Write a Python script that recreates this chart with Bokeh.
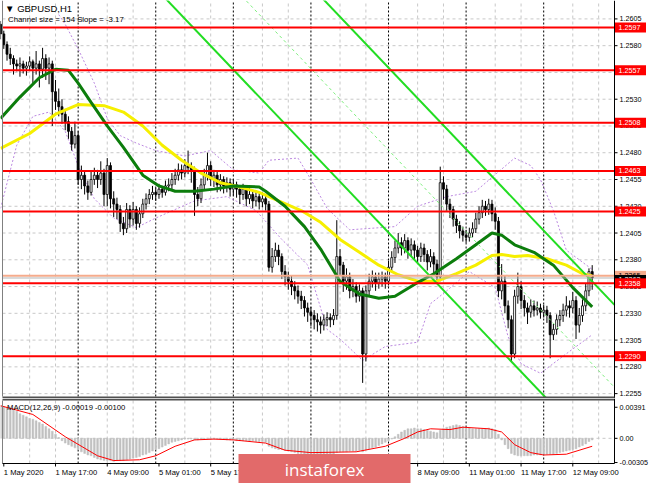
from bokeh.plotting import figure
from bokeh.layouts import column
from bokeh.models import Range1d, Label, ColumnDataSource
from bokeh.core.properties import value
from bokeh.embed import file_html
from bokeh.resources import INLINE

FONT = "Liberation Sans"

# ---------------- data ----------------
symbol_title = "\u25BC GBPUSD,H1"
channel_size_pips = 154
channel_slope_pips = -3.17
channel_anchor_bar = 99
channel_anchor_price = 1.2472

first_open = 1.2600
closes = [
    1.2591, 1.2581, 1.2572, 1.2568, 1.2563, 1.2561, 1.2563, 1.2559,
    1.2561, 1.2565, 1.2559, 1.2563, 1.2558, 1.2568, 1.2559, 1.2563,
    1.2537, 1.2528, 1.2523, 1.2516, 1.2509, 1.2500, 1.2488, 1.2496,
    1.2455, 1.2459, 1.2449, 1.2443, 1.2455, 1.2459, 1.2455, 1.2461,
    1.2441, 1.2468, 1.2437, 1.2432, 1.2427, 1.2414, 1.2409, 1.2427,
    1.2418, 1.2427, 1.2414, 1.2423, 1.2432, 1.2437, 1.2441, 1.2443,
    1.2441, 1.2446, 1.2443, 1.2449, 1.2450, 1.2455, 1.2459, 1.2464,
    1.2461, 1.2468, 1.2466, 1.2464, 1.2441, 1.2437, 1.2450, 1.2459,
    1.2468, 1.2455, 1.2459, 1.2450, 1.2455, 1.2449, 1.2452, 1.2446,
    1.2450, 1.2446, 1.2441, 1.2446, 1.2437, 1.2441, 1.2435, 1.2439,
    1.2434, 1.2437, 1.2432, 1.2373, 1.2383, 1.2389, 1.2383, 1.2369,
    1.2364, 1.2360, 1.2355, 1.2351, 1.2346, 1.2342, 1.2335, 1.2331,
    1.2328, 1.2324, 1.2322, 1.2319, 1.2324, 1.2326, 1.2324, 1.2328,
    1.2383, 1.2375, 1.2360, 1.2364, 1.2351, 1.2355, 1.2346, 1.2351,
    1.2292, 1.2351, 1.2360, 1.2364, 1.2358, 1.2362, 1.2364, 1.2360,
    1.2373, 1.2382, 1.2391, 1.2396, 1.2391, 1.2398, 1.2389, 1.2394,
    1.2389, 1.2383, 1.2391, 1.2385, 1.2378, 1.2383, 1.2376, 1.2364,
    1.2452, 1.2446, 1.2432, 1.2427, 1.2418, 1.2412, 1.2407, 1.2403,
    1.2401, 1.2405, 1.2409, 1.2418, 1.2424, 1.2430, 1.2427, 1.2432,
    1.2423, 1.2416, 1.2351, 1.2360, 1.2337, 1.2324, 1.2292, 1.2346,
    1.2355, 1.2342, 1.2335, 1.2331, 1.2337, 1.2333, 1.2335, 1.2331,
    1.2333, 1.2328, 1.2310, 1.2315, 1.2324, 1.2328, 1.2333, 1.2337,
    1.2335, 1.2342, 1.2319, 1.2328, 1.2337, 1.2351, 1.2369, 1.2363,
]
highs = [
    1.2603, 1.2594, 1.2584, 1.2578, 1.2571, 1.2567, 1.2569, 1.2566,
    1.2565, 1.2570, 1.2567, 1.2575, 1.2566, 1.2578, 1.2572, 1.2569,
    1.2566, 1.2548, 1.2540, 1.2530, 1.2521, 1.2514, 1.2504, 1.2509,
    1.2500, 1.2468, 1.2463, 1.2454, 1.2462, 1.2466, 1.2464, 1.2472,
    1.2465, 1.2475, 1.2471, 1.2444, 1.2438, 1.2431, 1.2420, 1.2433,
    1.2431, 1.2434, 1.2430, 1.2429, 1.2437, 1.2442, 1.2446, 1.2449,
    1.2447, 1.2451, 1.2449, 1.2454, 1.2456, 1.2461, 1.2465, 1.2470,
    1.2469, 1.2474, 1.2482, 1.2471, 1.2467, 1.2448, 1.2456, 1.2465,
    1.2480, 1.2472, 1.2464, 1.2462, 1.2460, 1.2458, 1.2457, 1.2456,
    1.2455, 1.2453, 1.2449, 1.2451, 1.2449, 1.2447, 1.2444, 1.2445,
    1.2442, 1.2443, 1.2440, 1.2435, 1.2391, 1.2396, 1.2394, 1.2386,
    1.2375, 1.2369, 1.2365, 1.2360, 1.2356, 1.2351, 1.2346, 1.2340,
    1.2336, 1.2333, 1.2330, 1.2327, 1.2329, 1.2331, 1.2330, 1.2334,
    1.2417, 1.2390, 1.2378, 1.2372, 1.2368, 1.2362, 1.2359, 1.2357,
    1.2354, 1.2356, 1.2367, 1.2370, 1.2368, 1.2368, 1.2369, 1.2368,
    1.2379, 1.2388, 1.2398, 1.2405, 1.2401, 1.2404, 1.2401, 1.2400,
    1.2398, 1.2393, 1.2396, 1.2395, 1.2389, 1.2390, 1.2387, 1.2380,
    1.2467, 1.2458, 1.2450, 1.2437, 1.2430, 1.2422, 1.2416, 1.2411,
    1.2408, 1.2410, 1.2415, 1.2424, 1.2430, 1.2436, 1.2435, 1.2437,
    1.2436, 1.2429, 1.2420, 1.2376, 1.2365, 1.2342, 1.2328, 1.2352,
    1.2368, 1.2360, 1.2347, 1.2340, 1.2343, 1.2342, 1.2341, 1.2339,
    1.2338, 1.2337, 1.2331, 1.2320, 1.2329, 1.2333, 1.2339, 1.2346,
    1.2342, 1.2350, 1.2346, 1.2335, 1.2343, 1.2358, 1.2372, 1.2375,
]
lows = [
    1.2586, 1.2577, 1.2566, 1.2562, 1.2553, 1.2556, 1.2551, 1.2554,
    1.2552, 1.2557, 1.2545, 1.2553, 1.2541, 1.2550, 1.2548, 1.2544,
    1.2505, 1.2520, 1.2514, 1.2507, 1.2501, 1.2493, 1.2482, 1.2484,
    1.2450, 1.2446, 1.2441, 1.2436, 1.2440, 1.2450, 1.2447, 1.2450,
    1.2430, 1.2430, 1.2428, 1.2420, 1.2418, 1.2406, 1.2403, 1.2405,
    1.2410, 1.2412, 1.2408, 1.2410, 1.2419, 1.2427, 1.2432, 1.2436,
    1.2435, 1.2437, 1.2438, 1.2440, 1.2444, 1.2446, 1.2450, 1.2454,
    1.2455, 1.2457, 1.2460, 1.2452, 1.2421, 1.2430, 1.2433, 1.2446,
    1.2454, 1.2449, 1.2448, 1.2443, 1.2444, 1.2442, 1.2443, 1.2439,
    1.2440, 1.2438, 1.2432, 1.2436, 1.2430, 1.2432, 1.2428, 1.2430,
    1.2427, 1.2429, 1.2426, 1.2369, 1.2368, 1.2378, 1.2375, 1.2362,
    1.2356, 1.2352, 1.2347, 1.2343, 1.2339, 1.2334, 1.2327, 1.2322,
    1.2318, 1.2315, 1.2313, 1.2311, 1.2314, 1.2318, 1.2317, 1.2319,
    1.2324, 1.2366, 1.2350, 1.2352, 1.2344, 1.2345, 1.2340, 1.2341,
    1.2265, 1.2285, 1.2346, 1.2354, 1.2351, 1.2353, 1.2355, 1.2353,
    1.2356, 1.2368, 1.2377, 1.2386, 1.2384, 1.2386, 1.2381, 1.2383,
    1.2380, 1.2376, 1.2378, 1.2378, 1.2370, 1.2373, 1.2367, 1.2358,
    1.2360, 1.2436, 1.2425, 1.2419, 1.2411, 1.2405, 1.2400, 1.2397,
    1.2396, 1.2397, 1.2401, 1.2405, 1.2413, 1.2419, 1.2421, 1.2422,
    1.2416, 1.2408, 1.2345, 1.2343, 1.2330, 1.2316, 1.2285, 1.2288,
    1.2339, 1.2334, 1.2327, 1.2320, 1.2326, 1.2327, 1.2328, 1.2325,
    1.2326, 1.2321, 1.2288, 1.2305, 1.2310, 1.2318, 1.2322, 1.2327,
    1.2326, 1.2330, 1.2306, 1.2312, 1.2322, 1.2332, 1.2346, 1.2352,
]
opens = [first_open] + closes[:-1]
bars = list(range(len(closes)))

ma_fast_bars = [0, 6, 12, 17, 21, 24, 28, 33, 38, 44, 49, 54, 60, 66, 72, 80, 82, 88, 94, 99,
                105, 111, 117, 122, 128, 134, 141, 147, 152, 155, 159, 165, 171, 177, 183]
ma_fast = [1.2512, 1.2532, 1.2550, 1.2558, 1.2557, 1.2545, 1.2527, 1.2505, 1.2485, 1.2459,
           1.2449, 1.2444, 1.2444, 1.2446, 1.2449, 1.2448, 1.2444, 1.2430, 1.2411, 1.2390,
           1.2360, 1.2348, 1.2344, 1.2346, 1.2357, 1.2367, 1.2381, 1.2394, 1.2405, 1.2403,
           1.2394, 1.2387, 1.2375, 1.2354, 1.2336]
ma_slow_bars = [0, 9, 17, 24, 32, 38, 44, 50, 56, 62, 68, 74, 80, 86, 93, 99, 105, 111, 117, 123,
                129, 135, 141, 147, 152, 155, 159, 163, 169, 175, 180, 183]
ma_slow = [1.2484, 1.2498, 1.2516, 1.2525, 1.2524, 1.2518, 1.2505, 1.2487, 1.2473, 1.2461,
           1.2452, 1.2448, 1.2443, 1.2435, 1.2426, 1.2415, 1.2399, 1.2387, 1.2375, 1.2366,
           1.2360, 1.2360, 1.2367, 1.2375, 1.2384, 1.2385, 1.2383, 1.2384, 1.2381, 1.2375,
           1.2367, 1.2365]
band_up_bars = [18, 20, 24, 29, 33, 37, 42, 48, 57, 65, 72, 80, 83, 92, 96, 101, 108, 122, 129, 138,
                147, 152, 159, 164, 167, 171, 175, 183]
band_up = [1.2609, 1.2600, 1.2577, 1.2545, 1.2512, 1.2496, 1.2489, 1.2482, 1.2477, 1.2482,
           1.2464, 1.2461, 1.2473, 1.2475, 1.2455, 1.2428, 1.2408, 1.2411, 1.2430, 1.2439,
           1.2444, 1.2457, 1.2475, 1.2468, 1.2455, 1.2426, 1.2389, 1.2371]
band_lo_bars = [0, 5, 10, 15, 20, 24, 29, 35, 42, 48, 60, 70, 79, 87, 95, 101, 105, 112, 119, 129,
                133, 138, 145, 153, 157, 161, 167, 174, 183]
band_lo = [1.2428, 1.2487, 1.2514, 1.2518, 1.2500, 1.2468, 1.2437, 1.2419, 1.2410, 1.2419,
           1.2435, 1.2439, 1.2426, 1.2399, 1.2375, 1.2315, 1.2306, 1.2286, 1.2299, 1.2303,
           1.2339, 1.2351, 1.2369, 1.2354, 1.2308, 1.2283, 1.2274, 1.2290, 1.2310]

levels = [1.2597, 1.2557, 1.2508, 1.2463, 1.2425, 1.2358, 1.2290]
ask_price = 1.2365
bid_price = 1.2363

price_ticks = [1.2255, 1.2280, 1.2305, 1.2330, 1.2355, 1.2380, 1.2405, 1.2430,
               1.2455, 1.2480, 1.2505, 1.2530, 1.2555, 1.2580, 1.2605]

macd_hist = [
    0.0041, 0.0040, 0.0039, 0.0038, 0.0036, 0.0034, 0.0031,
    0.0029, 0.0027, 0.0025, 0.0024, 0.0022, 0.0020, 0.0018, 0.0015, 0.0012,
    0.0009, 0.0005, 0.0001, -0.0003, -0.0006, -0.0008, -0.0010, -0.0012,
    -0.0014, -0.0017, -0.0019, -0.0021, -0.0022, -0.0024, -0.0026, -0.0027,
    -0.0028, -0.0028, -0.0028, -0.0029, -0.0028, -0.0028, -0.0028, -0.0027,
    -0.0026, -0.0025, -0.0024, -0.0023, -0.0021, -0.0020, -0.0018, -0.0016,
    -0.0014, -0.0013, -0.0011, -0.0009, -0.0007, -0.0005, -0.0004, -0.0003,
    -0.0002, -0.0001, -0.0001, -0.0001, -0.0002, -0.0002, -0.0001, -0.0001,
    0.0000, -0.0001, -0.0001, -0.0001, -0.0001, -0.0001, -0.0002, -0.0002,
    -0.0002, -0.0003, -0.0003, -0.0003, -0.0003, -0.0004, -0.0003, -0.0004,
    -0.0004, -0.0004, -0.0005, -0.0010, -0.0012, -0.0013, -0.0014, -0.0014,
    -0.0015, -0.0016, -0.0017, -0.0018, -0.0019, -0.0019, -0.0020, -0.0020,
    -0.0021, -0.0021, -0.0022, -0.0022, -0.0022, -0.0021, -0.0021, -0.0020,
    -0.0018, -0.0017, -0.0017, -0.0017, -0.0016, -0.0016, -0.0016, -0.0015,
    -0.0017, -0.0014, -0.0013, -0.0012, -0.0011, -0.0009, -0.0007, -0.0005,
    -0.0003, -0.0001, 0.0002, 0.0005, 0.0008, 0.0010, 0.0012, 0.0012,
    0.0013, 0.0012, 0.0012, 0.0011, 0.0010, 0.0009, 0.0008, 0.0007,
    0.0010, 0.0012, 0.0014, 0.0015, 0.0016, 0.0017, 0.0016, 0.0015,
    0.0014, 0.0013, 0.0012, 0.0012, 0.0012, 0.0012, 0.0012, 0.0013,
    0.0012, 0.0011, 0.0005, -0.0002, -0.0008, -0.0013, -0.0019, -0.0021,
    -0.0022, -0.0022, -0.0022, -0.0022, -0.0022, -0.0021, -0.0021, -0.0021,
    -0.0020, -0.0020, -0.0020, -0.0020, -0.0019, -0.0018, -0.0017, -0.0016,
    -0.0015, -0.0014, -0.0013, -0.0011, -0.0009, -0.0007, -0.0004, -0.0002,
]
signal_bars = [0, 10, 20, 30, 35, 43, 48, 54, 60, 66, 72, 82, 88, 96, 110, 119, 125, 129,
               133, 139, 143, 151, 155, 159, 164, 168, 175, 183]
signal_vals = [0.0041, 0.0030, 0.0002, -0.0022, -0.0028, -0.0027, -0.0022, -0.0010, -0.0002,
               -0.0001, -0.0002, -0.0006, -0.0015, -0.0018, -0.0017, -0.0010, 0.0000, 0.0008,
               0.0012, 0.0011, 0.0014, 0.0012, 0.0008, -0.0008, -0.0018, -0.0021, -0.0020, -0.0010]
macd_title = "MACD(12,26,9) -0.00019 -0.00100"
macd_ticks = [0.00391, 0.0, -0.00305]
macd_tick_labels = ["0.00391", "0.00", "-0.00305"]

time_label_bars = [1, 17, 33, 49, 65, 81, 97, 113, 129, 145, 161, 177]
time_labels = ["1 May 2020", "1 May 17:00", "4 May 09:00", "5 May 01:00", "5 May 17:00",
               "6 May 09:00", "7 May 01:00", "7 May 17:00", "8 May 09:00", "11 May 01:00",
               "11 May 17:00", "12 May 09:00"]
day_start_bars = [24, 48, 72, 96, 120, 144, 168]
brand = "instaforex"

# ---------------- geometry ----------------
W = 649
CW = 612                     # chart-area width in px (left border 2 px)
X0, X1 = 0.6, 189.9          # bars at the chart-area edges
PXB = CW / (X1 - X0)         # px per bar
XR = Range1d(X0 - 2 / PXB, X1 + (W - 2 - CW) / PXB)

P_TOP, P_BOT = 1.26222, 1.22523
MAIN_H = 398
PPP = (P_TOP - P_BOT) / 396  # price per px
M_TOP, M_BOT = 0.00476, -0.00317
MPP = (M_TOP - M_BOT) / 63   # macd units per px
MACD_H = 85

grid_bars = [b for b in range(1, 190) if b % 8 == 1 and b % 24 != 1]
GRID = "#c8c8c8"
TXT = dict(text_font=value(FONT), text_color="black")


def vlines(fig, xs, y0, y1, **kw):
    fig.segment(x0=xs, y0=[y0] * len(xs), x1=xs, y1=[y1] * len(xs), **kw)


def hlines(fig, ys, x0, x1, **kw):
    fig.segment(x0=[x0] * len(ys), y0=ys, x1=[x1] * len(ys), y1=ys, **kw)


def new_fig(h, yr):
    f = figure(width=W, height=h, x_range=XR, y_range=yr, output_backend="svg",
               toolbar_location=None, min_border=0, x_axis_location=None,
               y_axis_location=None, outline_line_color=None,
               background_fill_color="white", border_fill_color="white")
    f.xgrid.visible = False
    f.ygrid.visible = False
    return f


# ---------------- main price panel ----------------
p = new_fig(MAIN_H, Range1d(P_TOP - MAIN_H * PPP, P_TOP))

hlines(p, price_ticks, X0, X1, line_color=GRID, line_dash="3 3", line_width=1)
vlines(p, grid_bars, P_BOT, P_TOP, line_color=GRID, line_dash="3 3", line_width=1)
vlines(p, day_start_bars, P_BOT, P_TOP, line_color="black", line_dash="2 2", line_width=1)

p.line(band_up_bars, band_up, line_color="#bb88e0", line_width=1, line_dash="2 2")
p.line(band_lo_bars, band_lo, line_color="#bb88e0", line_width=1, line_dash="2 2")

src = ColumnDataSource(dict(
    x=bars, h=highs, l=lows,
    top=[max(o, c) for o, c in zip(opens, closes)],
    bot=[min(o, c) for o, c in zip(opens, closes)],
    fill=["white" if c >= o else "black" for o, c in zip(opens, closes)],
))
p.segment(x0="x", y0="l", x1="x", y1="h", source=src, line_color="black", line_width=1)
p.vbar(x="x", width=0.62, top="top", bottom="bot", source=src, fill_color="fill",
       line_color="black", line_width=0.8)

p.line(ma_slow_bars, ma_slow, line_color="#f6ef00", line_width=3)
p.line(ma_fast_bars, ma_fast, line_color="#0c7d0c", line_width=3)

# regression channel (ends at the chart's right edge)
ch_x = [30, X1]
ch_lo = [channel_anchor_price + channel_slope_pips * 0.0001 * (x - channel_anchor_bar) for x in ch_x]
ch_hi = [v + channel_size_pips * 0.0001 for v in ch_lo]
ch_mid = [v + channel_size_pips * 0.0001 / 2 for v in ch_lo]
p.line(ch_x, ch_lo, line_color="#22dd22", line_width=2)
p.line(ch_x, ch_hi, line_color="#22dd22", line_width=2)
p.line(ch_x, ch_mid, line_color="#7fee7f", line_width=1, line_dash="3 3")

hlines(p, [ask_price], X0, X1, line_color="#f5ab8c", line_width=2)
hlines(p, [bid_price], X0, X1, line_color="#b4b4b4", line_width=1)
hlines(p, levels, X0, X1, line_color="#ff0000", line_width=2)

# frame lines and right price scale
vlines(p, [X0], P_BOT, P_TOP, line_color="#808080", line_width=1)
vlines(p, [X1], P_BOT - 2 * PPP, P_TOP, line_color="black", line_width=1)
hlines(p, [P_BOT - 1 * PPP], X0, X1, line_color="#505050", line_width=2)
p.segment(x0=[X1] * len(price_ticks), y0=price_ticks,
          x1=[X1 + 3 / PXB] * len(price_ticks), y1=price_ticks, line_color="black", line_width=1)
p.text(x=[X1 + 5 / PXB] * len(price_ticks), y=price_ticks,
       text=[f"{t:.4f}" for t in price_ticks], text_font_size=value("7.2px"),
       text_align="left", text_baseline="middle", **TXT)

# price tags on the scale
TAG_X = X1 + 16 / PXB
p.rect(x=[TAG_X], y=[ask_price], width=31, height=10, width_units="screen",
       height_units="screen", fill_color="#f5ab8c", line_color=None)
p.text(x=[X1 + 4 / PXB], y=[ask_price], text=[f"{ask_price:.4f}"],
       text_font_size=value("7.2px"), text_align="left", text_baseline="middle", **TXT)
p.rect(x=[TAG_X], y=[bid_price - 2 * PPP], width=31, height=10, width_units="screen",
       height_units="screen", fill_color="black", line_color=None)
p.text(x=[X1 + 4 / PXB], y=[bid_price - 2 * PPP], text=[f"{bid_price:.4f}"],
       text_font_size=value("7.2px"), text_align="left", text_baseline="middle",
       text_font=value(FONT), text_color="white")
p.rect(x=[TAG_X] * len(levels), y=levels, width=31, height=10, width_units="screen",
       height_units="screen", fill_color="#ff0000", line_color=None)
p.text(x=[X1 + 4 / PXB] * len(levels), y=levels, text=[f"{lv:.4f}" for lv in levels],
       text_font_size=value("7.2px"), text_align="left", text_baseline="middle",
       text_font=value(FONT), text_color="white")

# titles
p.text(x=[1.4], y=[P_TOP - 8 * PPP], text=[symbol_title], text_font_size=value("9.5px"),
       text_align="left", text_baseline="middle", **TXT)
p.text(x=[2.3], y=[P_TOP - 19 * PPP],
       text=[f"Channel size = {channel_size_pips} Slope = {channel_slope_pips}"],
       text_font_size=value("7.8px"), text_align="left", text_baseline="middle", **TXT)

# ---------------- MACD panel ----------------
q = new_fig(MACD_H, Range1d(M_BOT - 20 * MPP, M_TOP + 2 * MPP))

hlines(q, [0.0], X0, X1, line_color=GRID, line_dash="3 3", line_width=1)
vlines(q, grid_bars, M_BOT, M_TOP, line_color=GRID, line_dash="3 3", line_width=1)
vlines(q, day_start_bars, M_BOT, M_TOP, line_color="black", line_dash="2 2", line_width=1)

q.vbar(x=bars, width=0.55, top=macd_hist, bottom=0, fill_color="#c0c0c0",
       line_color="#c0c0c0", line_width=0.5)
q.line(signal_bars, signal_vals, line_color="#ff0000", line_width=1)

vlines(q, [X0], M_BOT, M_TOP, line_color="#808080", line_width=1)
hlines(q, [M_TOP + 1 * MPP], X0, X1, line_color="#505050", line_width=2)
hlines(q, [M_BOT], X0, X1, line_color="black", line_width=1)
vlines(q, [X1], M_BOT, M_TOP + 2 * MPP, line_color="black", line_width=1)
q.segment(x0=[X1] * len(macd_ticks), y0=macd_ticks, x1=[X1 + 3 / PXB] * len(macd_ticks),
          y1=macd_ticks, line_color="black", line_width=1)
q.text(x=[X1 + 5 / PXB] * len(macd_ticks), y=macd_ticks, text=macd_tick_labels,
       text_font_size=value("7.2px"), text_align="left", text_baseline="middle", **TXT)
q.segment(x0=time_label_bars, y0=[M_BOT] * len(time_label_bars), x1=time_label_bars,
          y1=[M_BOT - 3 * MPP] * len(time_label_bars), line_color="black", line_width=1)
q.text(x=time_label_bars, y=[M_BOT - 4 * MPP] * len(time_label_bars), text=time_labels,
       text_font_size=value("7.6px"), text_align="left", text_baseline="top", **TXT)

q.text(x=[2.0], y=[M_TOP - 7 * MPP], text=[macd_title], text_font_size=value("7.7px"),
       text_align="left", text_baseline="middle", **TXT)

# brand banner
q.rect(x=[100.2], y=[M_BOT - 5.5 * MPP], width=172, height=30, width_units="screen",
       height_units="screen", fill_color="#e26a6a", line_color=None)
q.text(x=[100.2], y=[M_BOT - 5.5 * MPP], text=[brand], text_font=value("Open Sans"),
       text_font_size=value("17px"), text_color="white", text_align="center",
       text_baseline="middle")

layout = column(p, q)
open("out.html", "w").write(file_html(layout, INLINE))
